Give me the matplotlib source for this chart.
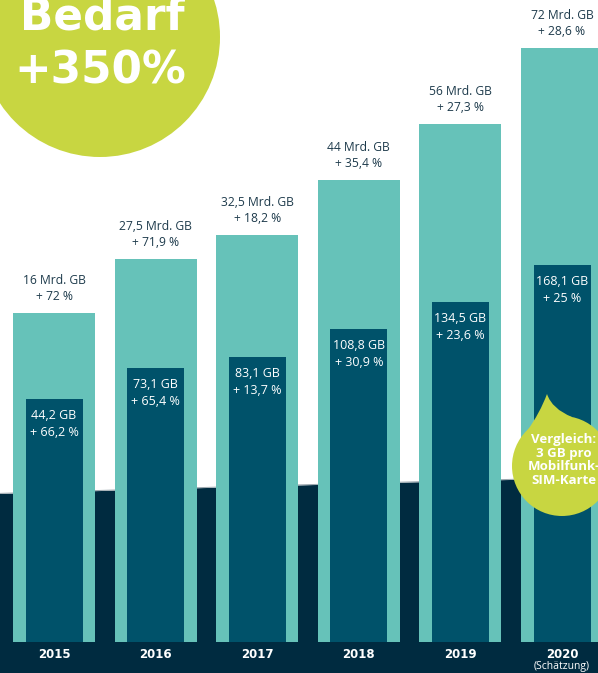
import numpy as np
import matplotlib.pyplot as plt
from matplotlib.patches import Circle, PathPatch
from matplotlib.path import Path

# data
years = ["2015", "2016", "2017", "2018", "2019", "2020"]
mobil_mrd_gb = [16, 27.5, 32.5, 44, 56, 72]
mobil_growth = ["+ 72 %", "+ 71,9 %", "+ 18,2 %", "+ 35,4 %", "+ 27,3 %", "+ 28,6 %"]
sim_gb = [44.2, 73.1, 83.1, 108.8, 134.5, 168.1]
sim_growth = ["+ 66,2 %", "+ 65,4 %", "+ 13,7 %", "+ 30,9 %", "+ 23,6 %", "+ 25 %"]

# colours
LIGHT = "#66c2b9"
INNER = "#00526a"
NAVY = "#002b40"
LIME = "#c8d641"
TXT = "#1d3a4b"

plt.rcParams['font.family'] = ['Open Sans', 'DejaVu Sans']

W, H = 598, 673
fig = plt.figure(figsize=(W / 100, H / 100), dpi=100)
fig.patch.set_facecolor("white")

# background decoration axes in pixel coordinates
bg = fig.add_axes([0, 0, 1, 1], zorder=0)
bg.set_xlim(0, W)
bg.set_ylim(H, 0)
bg.axis("off")
xs = np.linspace(0, W, 100)
curve = 494 - 0.027 * xs - 0.000005 * xs * (W - xs)
bg.fill_between(xs, curve, H, color=NAVY, lw=0)
bg.plot(xs, curve - 0.6, color="#9aa6ad", lw=0.7)

# main bars (mobile data volume)
plot_bottom = 31
ax = fig.add_axes([0, plot_bottom / H, 1, (H - plot_bottom) / H], zorder=1)
ax.patch.set_alpha(0)
x = np.arange(len(years))
ax.set_xlim(-0.532, -0.532 + W / 101.6)
lo1 = -53.4
ax.set_ylim(lo1, lo1 + 642 / 4.7385)
ax.bar(x, np.array(mobil_mrd_gb) - lo1, bottom=lo1, width=0.807, color=LIGHT, lw=0)
ax.axis("off")

for i, v in enumerate(mobil_mrd_gb):
    lbl = f"{v:g}".replace(".", ",") + " Mrd. GB\n" + mobil_growth[i]
    ax.annotate(lbl, xy=(i, v), xytext=(0, 10), textcoords="offset pixels",
                ha="center", va="bottom", fontsize=8.7, color=TXT, linespacing=1.3)
    ax.annotate(years[i], xy=(i, lo1), xytext=(0, -13), textcoords="offset pixels",
                ha="center", va="center", fontsize=8.5, fontweight="bold", color="white",
                family="DejaVu Sans")
ax.annotate("(Schätzung)", xy=(5, lo1), xytext=(0, -25), textcoords="offset pixels",
            ha="center", va="center", fontsize=7.5, color="white")

# inner bars (per SIM card)
ax2 = ax.twinx()
ax2.set_zorder(2)
lo2 = -180.7
ax2.set_ylim(lo2, lo2 + 642 / 1.0797)
ax2.bar(x, np.array(sim_gb) - lo2, bottom=lo2, width=0.561, color=INNER, lw=0)
ax2.axis("off")
for i, v in enumerate(sim_gb):
    lbl = f"{v:g}".replace(".", ",") + " GB\n" + sim_growth[i]
    ax2.annotate(lbl, xy=(i, v), xytext=(0, -10), textcoords="offset pixels",
                 ha="center", va="top", fontsize=9, color="white", linespacing=1.4)

# front decoration: circle + speech bubble
fg = fig.add_axes([0, 0, 1, 1], zorder=3)
fg.set_xlim(0, W)
fg.set_ylim(H, 0)
fg.axis("off")
fg.patch.set_alpha(0)
fg.add_patch(Circle((100, 37), 120, color=LIME, lw=0))
fg.text(102, 30, "Bedarf", ha="center", va="baseline", fontsize=31.5,
        fontweight="bold", color="white", family="DejaVu Sans")
fg.text(100, 83, "+350%", ha="center", va="baseline", fontsize=31.5,
        fontweight="bold", color="white", family="DejaVu Sans")

cx, cy, r = 562, 466, 50
fg.add_patch(Circle((cx, cy), r, color=LIME, lw=0))
tail = Path([(527, 431), (540, 413), (547, 394), (552, 409), (572, 417), (cx, cy), (527, 431)],
            [Path.MOVETO, Path.CURVE3, Path.CURVE3, Path.CURVE3, Path.CURVE3,
             Path.LINETO, Path.CLOSEPOLY])
fg.add_patch(PathPatch(tail, color=LIME, lw=0))
fg.text(564, 460, "Vergleich:\n3 GB pro\nMobilfunk-\nSIM-Karte", ha="center", va="center",
        fontsize=9.5, fontweight="bold", color="white", linespacing=1.1)

fig.savefig("out.png", dpi=100)
